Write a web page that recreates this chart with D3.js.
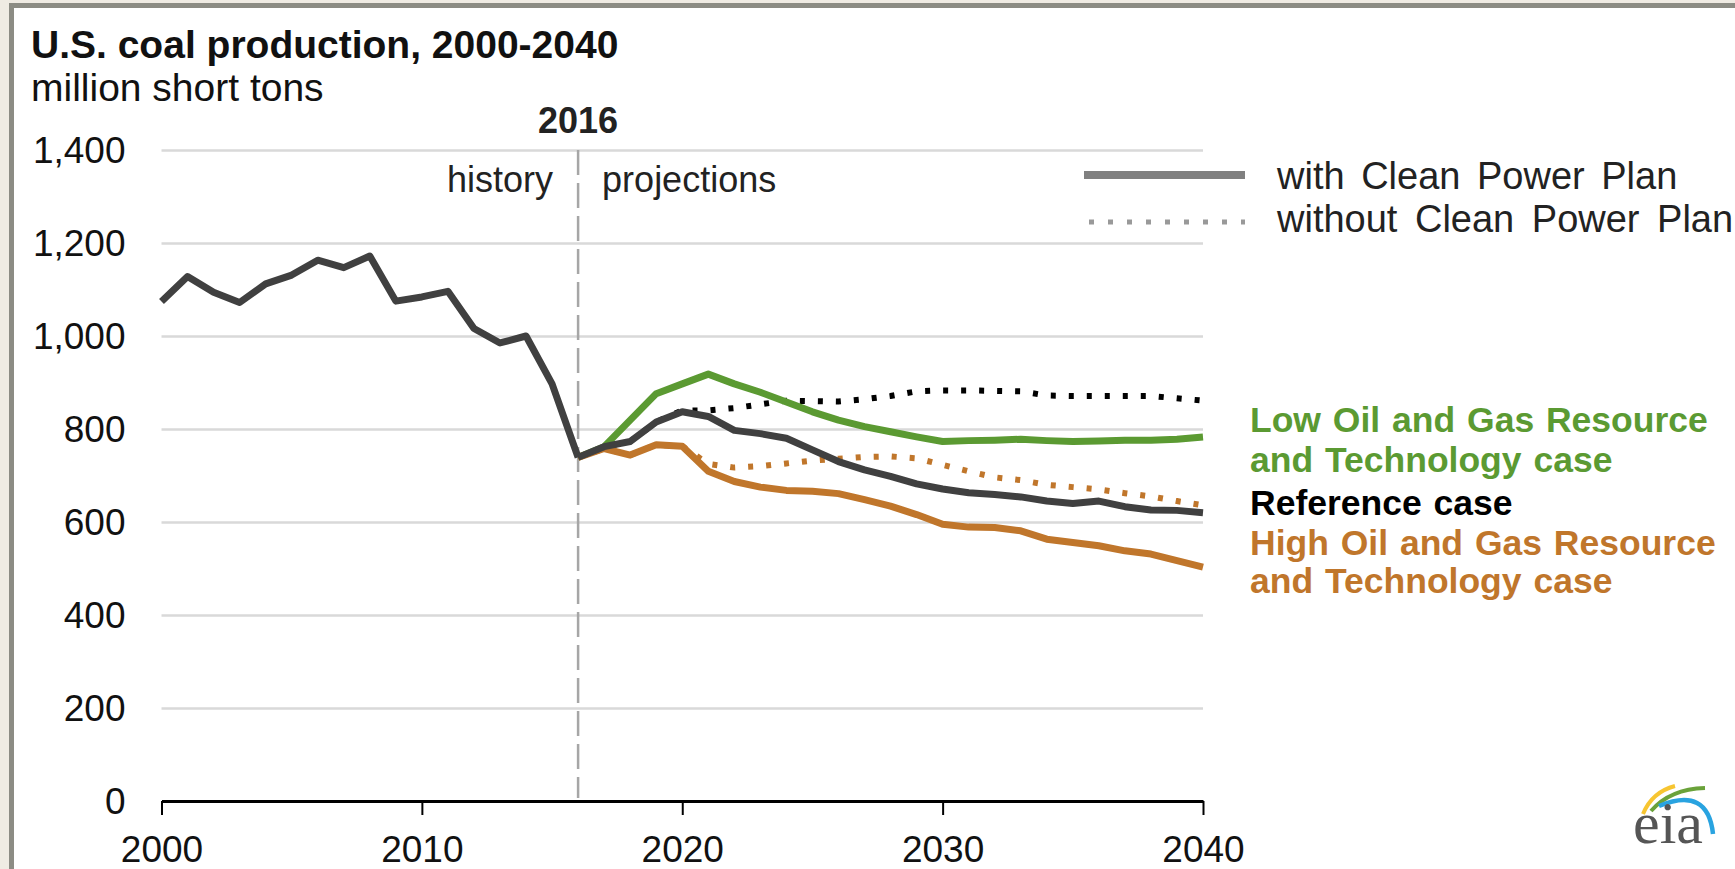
<!DOCTYPE html>
<html>
<head>
<meta charset="utf-8">
<script src="https://cdn.jsdelivr.net/npm/d3@7"></script>
<style>
  body { margin: 0; background: #efebe3; }
  svg { display: block; font-family: "Liberation Sans", Arial, sans-serif; }
</style>
</head>
<body>
<div id="chart"></div>
<script>
// values (million short tons)
var histYears = [2000, 2001, 2002, 2003, 2004, 2005, 2006, 2007, 2008, 2009, 2010, 2011, 2012, 2013, 2014, 2015, 2016];
var histValues = [1074, 1128, 1094, 1072, 1112, 1131, 1163, 1147, 1172, 1075, 1084, 1096, 1016, 985, 1000, 897, 739];

var projYears = [2016, 2017, 2018, 2019, 2020, 2021, 2022, 2023, 2024, 2025, 2026, 2027, 2028,
  2029, 2030, 2031, 2032, 2033, 2034, 2035, 2036, 2037, 2038, 2039, 2040];
var refCpp = [739, 762, 773, 815, 837, 827, 797, 790, 780, 755, 730, 712, 698, 682, 671, 663, 659, 654, 645, 640, 645, 633, 626, 625, 620];
var refNoCpp = [739, 762, 773, 815, 840, 840, 845, 853, 861, 860, 859, 864, 871, 881, 883, 883, 882, 881, 872, 871, 871, 871, 871, 866, 861];
var lowOgCpp = [739, 762, 819, 876, 897, 918, 897, 879, 858, 837, 819, 805, 794, 783, 773, 775, 776, 778, 775, 773, 774, 776, 776, 778, 783];
var highOgCpp = [739, 758, 744, 766, 763, 709, 687, 675, 668, 666, 661, 648, 634, 616, 595, 589, 588, 581, 563, 556, 549, 538, 531, 517, 503];
var highOgNoCpp = [739, 758, 744, 766, 763, 725, 717, 720, 726, 732, 736, 740, 741, 737, 723, 709, 696, 690, 680, 675, 670, 662, 655, 645, 636];

var yTicks = [0, 200, 400, 600, 800, 1000, 1200, 1400];
var xTicks = [2000, 2010, 2020, 2030, 2040];
var splitYear = 2016;

var W = 1735, H = 869;
var MARGIN = { top: 150, right: 532, bottom: 68, left: 161.5 };
var GREEN = "#5b9a32", ORANGE = "#c0762b", DARK = "#404040";

var svg = d3.select("#chart").append("svg").attr("width", W).attr("height", H);

// frame
svg.append("rect").attr("width", W).attr("height", H).attr("fill", "#efebe3");
svg.append("rect").attr("x", 9).attr("y", 3).attr("width", W - 9).attr("height", H - 3).attr("fill", "#8c8c84");
svg.append("rect").attr("x", 14).attr("y", 8).attr("width", W - 14).attr("height", H - 8).attr("fill", "#fff");

var x = d3.scaleLinear().domain([2000, 2040]).range([MARGIN.left, W - MARGIN.right]);
var y = d3.scaleLinear().domain([0, 1400]).range([H - MARGIN.bottom, MARGIN.top]);

// y axis + gridlines
var yAxis = d3.axisLeft(y).tickValues(yTicks).tickFormat(d3.format(",")).tickSize(-(x.range()[1] - x.range()[0])).tickPadding(36);
var gy = svg.append("g").attr("transform", "translate(" + MARGIN.left + ",0)").call(yAxis);
gy.select(".domain").remove();
gy.selectAll(".tick line").attr("stroke", "#d9d9d9").attr("stroke-width", 2.5)
  .filter(function(d) { return d === 0; }).remove();
gy.selectAll(".tick text").attr("font-size", 37).attr("fill", "#111").attr("font-family", "Liberation Sans, Arial, sans-serif").attr("dy", "0.34em");

// 2016 divider
svg.append("line")
  .attr("x1", x(splitYear)).attr("x2", x(splitYear))
  .attr("y1", y(1400)).attr("y2", y(0) - 3)
  .attr("stroke", "#a6a6a6").attr("stroke-width", 2.5).attr("stroke-dasharray", "25,8");

// x axis
var xAxis = d3.axisBottom(x).tickValues(xTicks).tickFormat(d3.format("d")).tickSizeInner(14).tickSizeOuter(0);
var gx = svg.append("g").attr("transform", "translate(0," + y(0) + ")").call(xAxis);
gx.select(".domain").attr("stroke", "#000").attr("stroke-width", 3);
gx.selectAll(".tick line").attr("stroke", "#000").attr("stroke-width", 2);
gx.selectAll(".tick text").attr("font-size", 37).attr("fill", "#111").attr("font-family", "Liberation Sans, Arial, sans-serif").attr("y", 61).attr("dy", 0);

// series
var line = d3.line().x(function(d) { return x(d[0]); }).y(function(d) { return y(d[1]); });
function pairs(years, vals) { return years.map(function(yr, i) { return [yr, vals[i]]; }); }

function drawDotted(vals, color) {
  svg.append("path").datum(pairs(projYears, vals)).attr("d", line)
    .attr("fill", "none").attr("stroke", color).attr("stroke-width", 6)
    .attr("stroke-dasharray", "5,13");
}
function drawSolid(years, vals, color) {
  svg.append("path").datum(pairs(years, vals)).attr("d", line)
    .attr("fill", "none").attr("stroke", color).attr("stroke-width", 7)
    .attr("stroke-linejoin", "round");
}

drawDotted(refNoCpp, "#000");
drawDotted(highOgNoCpp, ORANGE);
drawSolid(projYears, lowOgCpp, GREEN);
drawSolid(projYears, highOgCpp, ORANGE);
drawSolid(projYears, refCpp, DARK);
drawSolid(histYears, histValues, DARK);

// titles
svg.append("text").attr("x", 31).attr("y", 58).attr("font-size", 39).attr("font-weight", "bold").attr("fill", "#111")
  .text("U.S. coal production, 2000-2040");
svg.append("text").attr("x", 31).attr("y", 101).attr("font-size", 39).attr("fill", "#111")
  .text("million short tons");
svg.append("text").attr("x", x(splitYear)).attr("y", 133).attr("text-anchor", "middle").attr("font-size", 36).attr("font-weight", "bold").attr("fill", "#222")
  .text("2016");
svg.append("text").attr("x", x(splitYear) - 25).attr("y", 192).attr("text-anchor", "end").attr("font-size", 36).attr("fill", "#222")
  .text("history");
svg.append("text").attr("x", x(splitYear) + 24).attr("y", 192).attr("font-size", 36).attr("fill", "#222")
  .text("projections");

// legend
var legend = svg.append("g");
legend.append("line").attr("x1", 1084).attr("x2", 1245).attr("y1", 175).attr("y2", 175)
  .attr("stroke", "#808080").attr("stroke-width", 8);
legend.append("line").attr("x1", 1089).attr("x2", 1245).attr("y1", 222).attr("y2", 222)
  .attr("stroke", "#999").attr("stroke-width", 5).attr("stroke-dasharray", "5,14");
legend.append("text").attr("x", 1277).attr("y", 189).attr("font-size", 38).attr("word-spacing", 6).attr("fill", "#222").text("with Clean Power Plan");
legend.append("text").attr("x", 1277).attr("y", 232).attr("font-size", 38).attr("word-spacing", 7).attr("fill", "#222").text("without Clean Power Plan");

// case labels
var caseLabels = [
  { text: "Low Oil and Gas Resource", y: 432, color: GREEN },
  { text: "and Technology case", y: 472, color: GREEN },
  { text: "Reference case", y: 515, color: "#000" },
  { text: "High Oil and Gas Resource", y: 555, color: ORANGE },
  { text: "and Technology case", y: 593, color: ORANGE }
];
svg.append("g").selectAll("text").data(caseLabels).enter().append("text")
  .attr("x", 1250).attr("y", function(d) { return d.y; })
  .attr("font-size", 35.5).attr("font-weight", "bold").attr("word-spacing", 2).attr("fill", function(d) { return d.color; })
  .text(function(d) { return d.text; });

// eia logo
var logo = svg.append("g");
logo.append("path").attr("d", "M1643,814 Q1652,792 1675,786").attr("fill", "none").attr("stroke", "#f7c531").attr("stroke-width", 4);
logo.append("path").attr("d", "M1651,811 Q1670,789 1705,788").attr("fill", "none").attr("stroke", "#6aa23a").attr("stroke-width", 4);
logo.append("path").attr("d", "M1659,806 Q1708,786 1713,834").attr("fill", "none").attr("stroke", "#29a3e0").attr("stroke-width", 4.5);
logo.append("text").attr("x", 1633).attr("y", 843).attr("font-size", 60).attr("font-family", "Liberation Serif, serif").attr("fill", "#555").text("eia");
</script>
</body>
</html>
